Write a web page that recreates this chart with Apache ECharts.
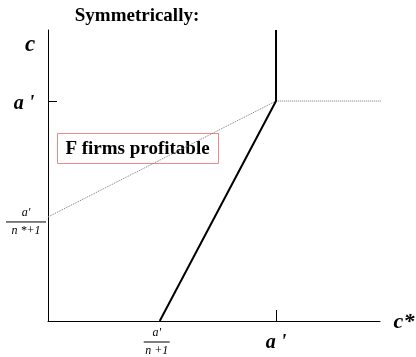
<!DOCTYPE html>
<html><head><meta charset="utf-8">
<script src="https://cdn.jsdelivr.net/npm/echarts@6/dist/echarts.min.js"></script>
<style>html,body{margin:0;padding:0;background:#fff}#c{width:416px;height:357px}</style>
</head><body><div id="c"></div>
<script>
// Data (a' normalised to 1)
const xRange = [0, 1.456];
const yRange = [0, 1.323];
const aPrime = 1;
const fracN = 0.49;        // a'/(n+1)
const fracNStar = 0.473;   // a'/(n*+1)
const boldLineX = [0.49, 1, 1];
const boldLineY = [0, 1, 1.323];
const dotLineX = [0, 1, 1.47];
const dotLineY = [0.473, 1, 1];
const titleText = 'Symmetrically:';
const yName = 'c';
const xName = 'c*';
const aLabel = "a '";
const regionLabel = 'F firms profitable';

const zip = (xs, ys) => xs.map((x, i) => [x, ys[i]]);
const chart = echarts.init(document.getElementById('c'));
const serif = '"Liberation Serif", "DejaVu Serif", serif';
chart.setOption({
  animation: false,
  grid: {left: 48, right: 36, top: 30, bottom: 36},
  xAxis: {type: 'value', min: xRange[0], max: xRange[1], splitLine: {show: false},
    axisLine: {lineStyle: {color: '#000', width: 1}},
    axisTick: {show: true, inside: true, length: 11, customValues: [aPrime], lineStyle: {color: '#000'}},
    axisLabel: {show: false}},
  yAxis: {type: 'value', min: yRange[0], max: yRange[1], splitLine: {show: false},
    axisLine: {show: true, lineStyle: {color: '#000', width: 1}},
    axisTick: {show: true, inside: true, length: 9, customValues: [aPrime], lineStyle: {color: '#000'}},
    axisLabel: {show: false}},
  series: [
    {type: 'line', data: zip(dotLineX, dotLineY), symbol: 'none', clip: false,
     lineStyle: {color: '#777', width: 1, type: [1, 1]}},
    {type: 'line', data: zip(boldLineX, boldLineY), symbol: 'none', clip: false,
     lineStyle: {color: '#000', width: 2}}
  ]
});

const px = (x, y) => chart.convertToPixel({gridIndex: 0}, [x, y]);
const pA = px(aPrime, aPrime);
const p0 = px(0, 0);
const pN = px(fracN, 0);
const pNs = px(0, fracNStar);
const pTop = px(0, yRange[1]);
const pEnd = px(xRange[1], 0);

function frac(cx, cy, num, den, w) {
  return {type: 'group', children: [
    {type: 'text', style: {x: cx, y: cy - 3, text: num, font: 'italic 12px ' + serif, fill: '#000', align: 'center', verticalAlign: 'bottom'}},
    {type: 'line', shape: {x1: cx - w / 2, y1: cy, x2: cx + w / 2, y2: cy}, style: {stroke: '#000', lineWidth: 1}},
    {type: 'text', style: {x: cx, y: cy + 3, text: den, font: 'italic 12px ' + serif, fill: '#000', align: 'center', verticalAlign: 'top'}}
  ]};
}

chart.setOption({graphic: [
  {type: 'text', style: {x: 137, y: 16, text: titleText, font: 'bold 19px ' + serif, fill: '#000', align: 'center', verticalAlign: 'middle'}},
  {type: 'text', style: {x: p0[0] - 18, y: pTop[1] + 15, text: yName, font: 'bold italic 23px ' + serif, fill: '#000', align: 'center', verticalAlign: 'middle'}},
  {type: 'text', style: {x: p0[0] - 24, y: pA[1] + 3, text: aLabel, font: 'bold italic 20px ' + serif, fill: '#000', align: 'center', verticalAlign: 'middle'}},
  {type: 'text', style: {x: pEnd[0] + 24, y: p0[1] + 1, text: xName, font: 'bold italic 22px ' + serif, fill: '#000', align: 'center', verticalAlign: 'middle'}},
  {type: 'text', style: {x: pA[0], y: p0[1] + 22, text: aLabel, font: 'bold italic 20px ' + serif, fill: '#000', align: 'center', verticalAlign: 'middle'}},
  frac(pN[0] - 3, p0[1] + 21, "a'", 'n +1', 26),
  frac(p0[0] - 22, pNs[1] + 5, "a'", 'n *+1', 40),
  {type: 'group', children: [
    {type: 'rect', shape: {x: 57.5, y: 133.5, width: 161, height: 30}, style: {fill: '#fff', stroke: '#f08a8a', lineWidth: 1}},
    {type: 'text', style: {x: 137.5, y: 149, text: regionLabel, font: 'bold 19px ' + serif, fill: '#000', align: 'center', verticalAlign: 'middle'}}
  ]}
]});
</script></body></html>
